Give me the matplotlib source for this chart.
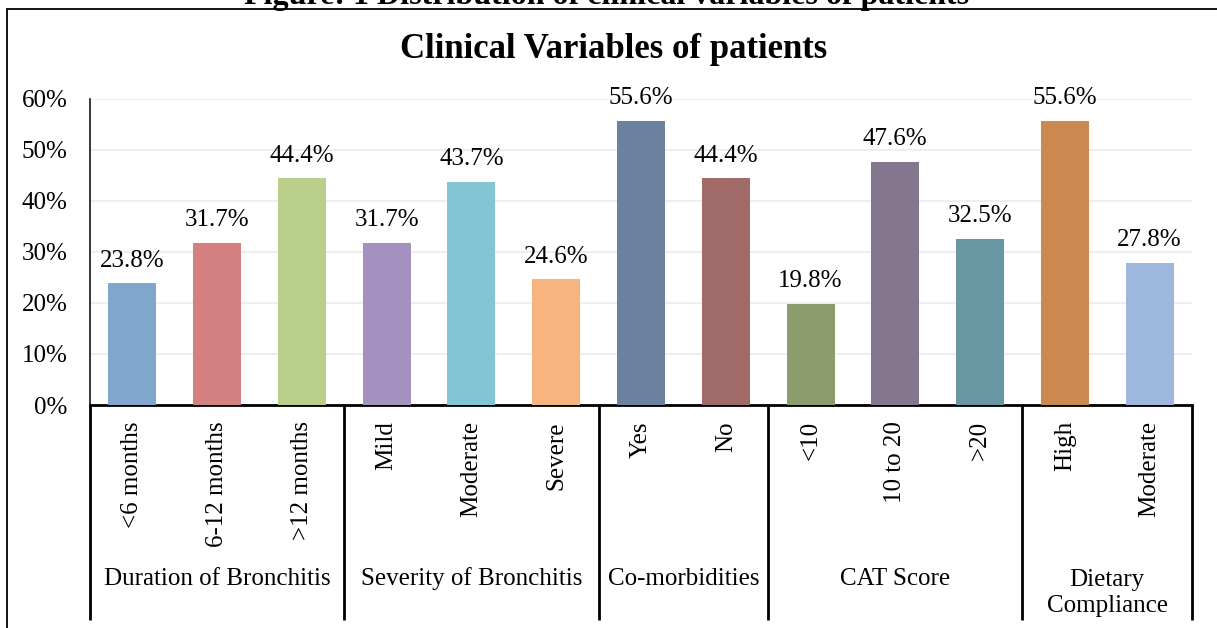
import matplotlib.pyplot as plt
import matplotlib.transforms as mtransforms
from matplotlib.patches import Rectangle
from matplotlib.ticker import PercentFormatter

plt.rcParams['font.family'] = ['Liberation Serif', 'DejaVu Serif']

groups = ['Duration of Bronchitis', 'Severity of Bronchitis', 'Co-morbidities',
          'CAT Score', 'Dietary\nCompliance']
group_sizes = [3, 3, 2, 3, 2]
categories = ['<6 months', '6-12 months', '>12 months', 'Mild', 'Moderate', 'Severe',
              'Yes', 'No', '<10', '10 to 20', '>20', 'High', 'Moderate']
values = [23.8, 31.7, 44.4, 31.7, 43.7, 24.6, 55.6, 44.4, 19.8, 47.6, 32.5, 55.6, 27.8]
colors = ['#81A6CE', '#D48081', '#BBCF8C', '#A491BF', '#83C4D5', '#F8B47E',
          '#6B819E', '#A06A69', '#8D9C6C', '#83768E', '#6897A3', '#CC894F', '#9DB8DC']

W, H = 1217, 628
fig = plt.figure(figsize=(W / 100, H / 100), dpi=100)
ax = fig.add_axes([90 / W, 1 - 405 / H, (1192 - 90) / W, (405 - 98.5) / H])

x = [i + 0.5 for i in range(len(values))]
bars = ax.bar(x, values, width=0.566, color=colors, zorder=3)
for b, v in zip(bars, values):
    ax.annotate('%.1f%%' % v, (b.get_x() + b.get_width() / 2, v),
                xytext=(0, 12), textcoords='offset points',
                ha='center', va='baseline', fontsize=18)

ax.set_xlim(0, len(values))
ax.set_ylim(0, 60)
ax.set_yticks(range(0, 61, 10))
ax.yaxis.set_major_formatter(PercentFormatter(decimals=0))
ax.tick_params(axis='y', length=0, pad=16, labelsize=18)
ax.set_xticks([])
ax.grid(axis='y', color='#EBEBEB', linewidth=1.2, zorder=0)
for s in ['top', 'right']:
    ax.spines[s].set_visible(False)
ax.spines['left'].set_linewidth(1.1)
ax.spines['bottom'].set_linewidth(2)

# multi-level category axis below the plot
tr = mtransforms.blended_transform_factory(ax.transData, fig.transFigure)
for xi, name in zip(x, categories):
    ax.text(xi, 1 - 421 / H, name, transform=tr, rotation=90,
            ha='center', va='top', fontsize=18)

edges = [0]
for n in group_sizes:
    edges.append(edges[-1] + n)
for e in edges:
    ax.plot([e, e], [1 - 405 / H, 1 - 620 / H], transform=tr, color='black',
            linewidth=2, clip_on=False, solid_capstyle='butt')
for i, g in enumerate(groups):
    mid = (edges[i] + edges[i + 1]) / 2
    if '\n' in g:
        ax.text(mid, 1 - 593 / H, g, transform=tr, ha='center', va='center',
                fontsize=18, linespacing=1.25)
    else:
        ax.text(mid, 1 - 579 / H, g, transform=tr, ha='center', va='center',
                fontsize=18)

fig.text(614 / W, 1 - 50 / H, 'Clinical Variables of patients', ha='center',
         va='center', fontsize=25, fontweight='bold')

# caption of the page, mostly cut off by the top edge
fig.text(607 / W, 1 - 4 / H, 'Figure: 1 Distribution of clinical variables of patients',
         ha='center', va='baseline', fontsize=23, fontweight='bold')

fig.patches.append(Rectangle((7 / W, -0.1), 1.2, 1 - 9 / H + 0.1,
                             transform=fig.transFigure, fill=False,
                             edgecolor='black', linewidth=1.3))

fig.savefig('out.png', dpi=100)
